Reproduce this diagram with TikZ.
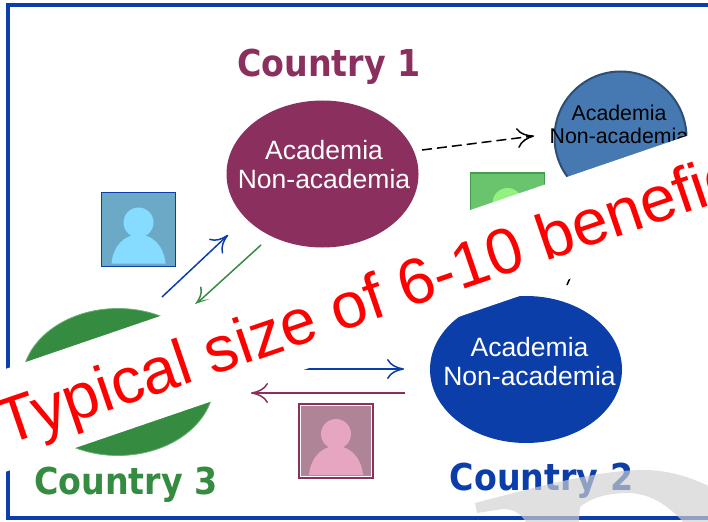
\documentclass[tikz,border=0pt]{standalone}
\usepackage{fontspec}
\setmainfont{Liberation Sans}
\newfontfamily\titlefont{DejaVu Sans Bold}[FakeStretch=0.9]
\usetikzlibrary{shapes.geometric,arrows.meta,calc}
\definecolor{maroonone}{HTML}{8A2F5E}
\definecolor{bluetwo}{HTML}{0C3EA9}
\definecolor{greenthree}{HTML}{358B40}
\definecolor{ballblue}{HTML}{4678B2}
\definecolor{logogray}{HTML}{D1D1D1}
\definecolor{boxblue}{HTML}{6BA9C6}
\definecolor{figblue}{HTML}{85DCFF}
\definecolor{boxpink}{HTML}{AF8496}
\definecolor{figpink}{HTML}{E6A6C1}
\definecolor{boxgreen}{HTML}{6AC46E}
\definecolor{figgreen}{HTML}{92F280}
\tikzset{
  country/.style={ellipse, inner sep=0pt, minimum width=192pt, minimum height=147pt},
  words/.style={inner sep=0pt, align=center, font=\fontsize{26.5}{29}\selectfont},
  title/.style={font=\titlefont\fontsize{37}{40}\selectfont},
  person/.style={minimum size=74pt, inner sep=0pt, line width=1.8pt},
  link/.style={-{To[length=17pt,width=20pt]}, line width=1.5pt},
}
\newcommand{\persondraw}[3]{% head and shoulders in a box
  \fill[#2] ($(#1)+(-27,34)$) .. controls ($(#1)+(-25,14)$) and ($(#1)+(-12,5)$) .. ($(#1)+(0,5)$) .. controls ($(#1)+(12,5)$) and ($(#1)+(25,14)$) .. ($(#1)+(27,34)$) -- cycle;
  \fill[#2] ($(#1)+(0,-7)$) circle (15);
  \draw[#3, line width=.8pt] ($(#1)+(-35.5,-35.5)$) rectangle ($(#1)+(35.5,35.5)$);
}
\begin{document}
\begin{tikzpicture}[x=1pt,y=-1pt]
 \path[use as bounding box, clip] (0,0) rectangle (708,521);
 % the frame
 \draw[bluetwo, line width=3.5pt] (8,5) rectangle (712,518);

 % the countries
 \node[country, fill=maroonone] (one) at (322.5,174) {};
 \node[words, text=white] (onewords) at (324,165) {Academia\\Non-academia};
 \node[country, fill=bluetwo] (two) at (526,369.5) {};
 \node[words, text=white] (twowords) at (529.5,362) {Academia\\Non-academia};
 \node[country, fill=greenthree, draw=greenthree!70!white, thick] (three) at (118,382) {};
 \node[circle, fill=ballblue, draw=ballblue!65!black, line width=2pt, minimum size=132pt, inner sep=0pt] (four) at (620.5,137.5) {};
 \node[words, font=\fontsize{21.3}{23}\selectfont] (fourwords) at (619,124) {Academia\\Non-academia};

 \node[title, text=maroonone] (titleone) at (329,67) {Country 1};
 \node[title, text=bluetwo] (titletwo) at (541.5,481) {Country 2};
 \node[title, text=greenthree] (titlethree) at (126,485) {Country 3};

 % the people
 \node[person, fill=boxblue, draw=bluetwo] (personblue) at (138.5,229.5) {};
 \persondraw{personblue}{figblue}{boxblue}
 \node[person, fill=boxpink, draw=maroonone] (personpink) at (336,441) {};
 \persondraw{personpink}{figpink}{white}
 \node[person, fill=boxgreen, draw=greenthree!70!boxgreen] (persongreen) at (507.5,210) {};
 \persondraw{persongreen}{figgreen}{boxgreen}

 % the arrows
 \coordinate (dashfrom) at (422,150);
 \coordinate (dashto) at (534,136);
 \coordinate (bluefrom) at (162,297);
 \coordinate (blueto) at (228,235);
 \coordinate (greenfrom) at (261,245);
 \coordinate (greento) at (195,305);
 \coordinate (rightfrom) at (304,369);
 \coordinate (rightto) at (404,369);
 \coordinate (leftfrom) at (405,393);
 \coordinate (leftto) at (251,393);
 \coordinate (tickfrom) at (567,285);
 \coordinate (tickto) at (570,278);
 \draw[link, dash pattern=on 10pt off 5pt] (dashfrom) -- (dashto);
 \draw[link, bluetwo] (bluefrom) -- (blueto);
 \draw[link, greenthree] (greenfrom) -- (greento);
 \draw[link, bluetwo] (rightfrom) -- (rightto);
 \draw[link, maroonone] (leftfrom) -- (leftto);
 \draw[line width=1.5pt] (tickfrom) -- (tickto);

 % the banner
 \fill[white] (-20,377.7) -- (760,111) -- (790,203.5) -- (-20,480.5) -- cycle;
 \node[anchor=base west, rotate=18.9, inner sep=0pt, text=red, font=\fontsize{64.5}{70}\selectfont] (banner) at (6,446) {Typical size of 6-10 beneficiaries};

 % the logo
 \fill[logogray, opacity=.67] (475,503) .. controls (540,486) and (600,470) .. (643,470) .. controls (670,470) and (695,478) .. (720,492) -- (720,530) -- (690,530) .. controls (670,505) and (650,493) .. (627,493) .. controls (608,493) and (590,498) .. (580,507) -- (578,530) -- (530,530) .. controls (524,515) and (515,509) .. (503,509) -- (477,513) -- cycle;
\end{tikzpicture}
\end{document}
